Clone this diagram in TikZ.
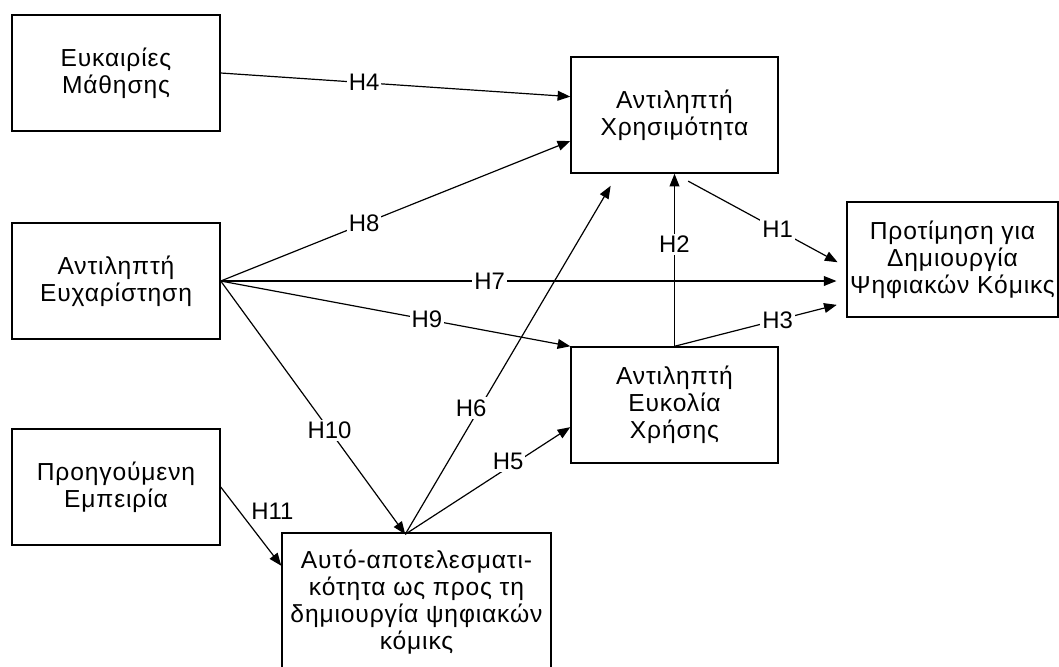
\documentclass[tikz,border=0pt]{standalone}
\usepackage{fontspec}
\setmainfont{Liberation Sans}
\newfontfamily\boxfont{Liberation Sans}[LetterSpace=3.5]
\usetikzlibrary{arrows.meta}

\begin{document}
\begin{tikzpicture}[x=0.025cm, y=-0.025cm,
        box/.style={draw, line width=1pt, align=center, inner sep=0.5pt,
            minimum width=5.2cm, minimum height=2.9cm, font=\boxfont\fontsize{17.5}{19.2}\selectfont},
        hyp/.style={line width=0.85pt, -{Triangle[length=9pt, width=7pt]}},
        lbl/.style={fill=white, inner sep=1.5pt, font=\fontsize{17}{19}\selectfont}]
        \useasboundingbox (0,0) rectangle (1059,666);

        % left column
        \node[box] (learn) at (116,73) {Ευκαιρίες\\Μάθησης};
        \node[box] (enjoy) at (116,281) {Αντιληπτή\\Ευχαρίστηση};
        \node[box] (exper) at (116,487) {Προηγούμενη\\Εμπειρία};

        % middle and right
        \node[box, minimum width=5.175cm] (useful) at (674.5,115) {Αντιληπτή\\Χρησιμότητα};
        \node[box, minimum width=5.175cm] (ease) at (674.5,405) {Αντιληπτή\\Ευκολία\\Χρήσης};
        \node[box, minimum width=5.275cm, minimum height=2.875cm] (pref) at (952.5,259.5) {Προτίμηση για\\Δημιουργία\\Ψηφιακών Κόμικς};
        \node[box, minimum width=6.725cm, minimum height=3.45cm] (selfeff) at (416.5,602) {Αυτό-αποτελεσματι-\\κότητα ως προς τη\\δημιουργία ψηφιακών\\κόμικς};
        \coordinate (gtop) at ([xshift=-8pt, yshift=-1.4pt]selfeff.north);

        \draw[hyp] (learn.east) -- node[lbl, pos=0.41] {H4} (useful.170);
        \draw[hyp] (enjoy.east) -- node[lbl, pos=0.41] {H8} (useful.194);
        \draw[hyp, shorten >=7pt] (enjoy.east) -- node[lbl, pos=0.43] {H7} (enjoy.east -| pref.west);
        \draw[hyp] (enjoy.east) -- node[lbl, pos=0.59] {H9} (ease.north west);
        \draw[hyp] (enjoy.east) -- node[lbl, pos=0.59] {H10} (gtop);
        \draw[hyp, shorten >=10pt] (gtop) -- node[lbl, pos=0.35, xshift=-6pt] {H6} (useful.226);
        \draw[hyp] (gtop) -- node[lbl, pos=0.64, xshift=-2pt, yshift=3pt] {H5} (ease.192);
        \draw[hyp] (exper.east) -- node[above right, pos=0.45, inner sep=2pt, font=\fontsize{17}{19}\selectfont] {H11} (selfeff.165);
        \draw[hyp] (ease.north) -- node[lbl, pos=0.59] {H2} (useful.south);
        \draw[hyp, shorten >=7pt] (ease.north) -- node[lbl, pos=0.6] {H3} (pref.202);
        \draw[hyp, shorten <=11pt, shorten >=7pt] (useful.south) -- node[lbl, pos=0.6] {H1} (pref.184);
\end{tikzpicture}
\end{document}
